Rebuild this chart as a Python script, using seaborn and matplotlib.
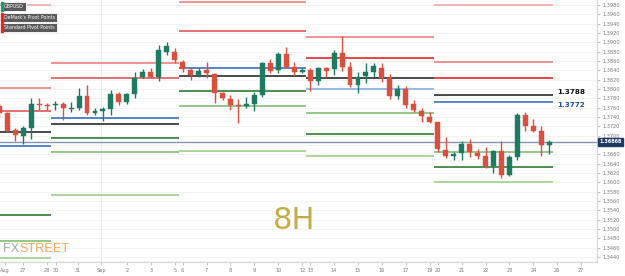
import numpy as np
import pandas as pd
import matplotlib
matplotlib.use("Agg")
import matplotlib.pyplot as plt
import seaborn as sns

# ---------------- data ----------------
opens = [1.37637, 1.3748, 1.37122, 1.36994, 1.37159, 1.37686, 1.37669, 1.37658, 1.3768, 1.37573,
         1.37588, 1.37851, 1.3748, 1.37536, 1.37566, 1.37901, 1.37716, 1.37901, 1.38252, 1.38359,
         1.38259, 1.38794, 1.38794, 1.38586, 1.38409, 1.38301, 1.38409, 1.38323, 1.37909, 1.37787,
         1.37658, 1.37637, 1.3768, 1.37873, 1.38552, 1.38409, 1.38752, 1.38479, 1.38372, 1.38409,
         1.38179, 1.38445, 1.38424, 1.38779, 1.38479, 1.38087, 1.3828, 1.38372, 1.38451, 1.38237,
         1.37851, 1.38001, 1.3768, 1.37536, 1.37408, 1.37287, 1.36694, 1.36565, 1.36623, 1.36822,
         1.36629, 1.36565, 1.36351, 1.36679, 1.36158, 1.3655, 1.37444, 1.37208, 1.37101, 1.36801]
highs = [1.37701, 1.37515, 1.37159, 1.37215, 1.37815, 1.37802, 1.37708, 1.3775, 1.37729, 1.37729,
         1.38029, 1.38087, 1.37588, 1.37622, 1.3798, 1.37943, 1.37922, 1.38359, 1.3843, 1.38445,
         1.38944, 1.39009, 1.3888, 1.38623, 1.38479, 1.38451, 1.38586, 1.38338, 1.37943, 1.37873,
         1.37787, 1.37836, 1.37943, 1.3858, 1.38638, 1.38801, 1.38895, 1.38586, 1.38445, 1.38458,
         1.38479, 1.38479, 1.38837, 1.39137, 1.38586, 1.38372, 1.38552, 1.38552, 1.38559, 1.38323,
         1.38087, 1.38066, 1.37766, 1.37588, 1.37515, 1.373, 1.36979, 1.36657, 1.36893, 1.36923,
         1.36722, 1.36764, 1.36704, 1.36893, 1.36587, 1.37493, 1.37515, 1.37352, 1.37208, 1.36908]
lows = [1.37401, 1.37086, 1.36887, 1.36816, 1.36929, 1.37551, 1.37551, 1.37551, 1.37337, 1.37515,
        1.37551, 1.37444, 1.37444, 1.37315, 1.37444, 1.37658, 1.37673, 1.37802, 1.38231, 1.38231,
        1.38179, 1.3873, 1.38559, 1.38372, 1.38194, 1.38259, 1.38231, 1.37695, 1.37766, 1.37551,
        1.37266, 1.37588, 1.37536, 1.3783, 1.38338, 1.38338, 1.38445, 1.38301, 1.38338, 1.37965,
        1.38087, 1.38265, 1.38301, 1.38394, 1.38051, 1.37922, 1.38136, 1.38252, 1.38151, 1.37787,
        1.37787, 1.37594, 1.37508, 1.373, 1.37266, 1.36657, 1.36516, 1.36479, 1.36479, 1.3655,
        1.36494, 1.36301, 1.36194, 1.36087, 1.36136, 1.36479, 1.37107, 1.37086, 1.36565, 1.36608]
closes = [1.37493, 1.37107, 1.37015, 1.37159, 1.3768, 1.37658, 1.37643, 1.37686, 1.37588, 1.37594,
          1.37851, 1.3748, 1.37536, 1.37573, 1.37901, 1.37716, 1.37901, 1.38231, 1.38372, 1.38265,
          1.38837, 1.38923, 1.38623, 1.38424, 1.38301, 1.38394, 1.38338, 1.37922, 1.37802, 1.37658,
          1.37637, 1.3768, 1.37873, 1.38552, 1.38394, 1.38752, 1.38479, 1.38372, 1.38409, 1.38179,
          1.38445, 1.38394, 1.38779, 1.38479, 1.38087, 1.38265, 1.38372, 1.38494, 1.38237, 1.37851,
          1.38001, 1.37658, 1.37551, 1.37423, 1.373, 1.36709, 1.36565, 1.36601, 1.36822, 1.36644,
          1.36565, 1.36351, 1.36679, 1.36158, 1.3655, 1.37444, 1.37208, 1.37107, 1.36801, 1.36868]

day_labels = ["Aug", "27", "28", "30", "31", "Sep", "2", "3", "5", "6", "7", "8", "9", "10",
              "12", "13", "14", "15", "16", "17", "19", "20", "21", "22", "23", "24", "26", "27"]
day_pos = [-0.3, 1.97, 5.0, 6.1, 8.9, 11.76, 15, 18, 21, 22, 25, 28, 31, 34, 37, 38, 41, 44,
           47, 50, 53, 54, 57, 60, 63, 66, 69, 72]

week_start = [-2.0, 5.5, 21.5, 37.5, 53.5]
week_end = [5.5, 21.5, 37.5, 53.5, 68.5]
piv_week = [0, 0, 0, 0, 0, 0, 0, 0,
            1, 1, 1, 1, 1, 1, 1,
            2, 2, 2, 2, 2, 2, 2,
            3, 3, 3, 3, 3, 3, 3,
            4, 4, 4, 4, 4, 4, 4, 4]
piv_value = [1.3981, 1.3802, 1.3753, 1.3708, 1.3677, 1.3530, 1.3474, 1.3438,
             1.3856, 1.3823, 1.3738, 1.3725, 1.3695, 1.3665, 1.3573,
             1.3987, 1.3925, 1.3845, 1.3829, 1.3796, 1.3763, 1.3668,
             1.3912, 1.3866, 1.3823, 1.3801, 1.3748, 1.3703, 1.3656,
             1.3980, 1.3859, 1.3823, 1.3788, 1.3772, 1.3665, 1.3632, 1.3600]
piv_kind = ["r3", "r2", "r1", "p", "dm", "s1", "s2", "s3",
            "r2", "r1", "dm", "p", "s1", "s2", "s3",
            "r2", "r1", "dm", "p", "s1", "s2", "s3",
            "r2", "r1b", "p", "dml", "s2", "s1", "s3",
            "r3", "r2", "r1b", "p", "dm", "s2", "s1", "s3"]

last_price = 1.36868
level_labels = ["1.3788", "1.3772"]
level_values = [1.3788, 1.3772]

# ---------------- style ----------------
sns.set_theme(style="white")
plt.rcParams["font.family"] = ["DejaVu Sans"]

kind_color = {"r3": "#f2a8a8", "r2": "#ec8080", "r1": "#e15858", "r1b": "#e8232a",
              "p": "#2b2b2b", "dm": "#3b6fc0", "dml": "#86aee0",
              "s1": "#2e7d32", "s2": "#7fbf74", "s3": "#9fcf8a"}
UP = "#1f7a62"
DOWN = "#d9503f"

fig = plt.figure(figsize=(6.25, 2.76), dpi=100)
ax = fig.add_axes([0.0, 1 - 262 / 276, 597 / 625, 262 / 276])
ax.set_facecolor("white")

ymin, ymax = 1.34293, 1.39909
ax.set_ylim(ymin, ymax)
ax.set_xlim(-0.92, 73.99)

yt = np.round(np.arange(1.3440, 1.39801, 0.002), 4)
for v in yt:
    ax.axhline(v, color="#f1f1f1", lw=0.6, zorder=0)
ax.axvline(11.76, color="#ececec", lw=0.8, zorder=0)

for w, v, k in zip(piv_week, piv_value, piv_kind):
    ax.hlines(v, week_start[w], week_end[w], color=kind_color[k], lw=1.2, zorder=1)

ax.axhline(last_price, color="#8595b0", lw=1.0, zorder=1)

df = pd.DataFrame({"o": opens, "h": highs, "l": lows, "c": closes})
df["x"] = np.arange(len(df)) - 1
df["up"] = df["c"] >= df["o"]
cols = np.where(df["up"], UP, DOWN)
ax.vlines(df["x"], df["l"], df["h"], colors=cols, lw=1.0, zorder=3)
body_lo = np.minimum(df["o"], df["c"])
body_h = np.maximum(np.abs(df["c"] - df["o"]), 0.00012)
ax.bar(df["x"], body_h, bottom=body_lo, width=0.62, color=cols, edgecolor=cols,
       linewidth=0.3, zorder=4)

ax.yaxis.tick_right()
ax.set_yticks(yt)
ax.set_yticklabels([f"{v:.4f}" for v in yt], fontsize=3.6, color="#777777")
ax.set_xticks(day_pos)
ax.set_xticklabels(day_labels, fontsize=3.6, color="#777777")
ax.tick_params(axis="y", length=2.5, width=0.5, color="#aaaaaa", pad=1.5)
ax.tick_params(axis="x", length=2, width=0.5, color="#aaaaaa", pad=2.5, bottom=True)
for s in ["top", "left"]:
    ax.spines[s].set_visible(False)
for s in ["right", "bottom"]:
    ax.spines[s].set_color("#d5d5d5")
    ax.spines[s].set_linewidth(0.8)

ax.text(69.0, level_values[0], level_labels[0], fontsize=5.2, fontweight="bold",
        color="#111111", va="bottom", ha="left", zorder=6)
ax.text(69.0, level_values[1], level_labels[1], fontsize=5.2, fontweight="bold",
        color="#1f4fa3", va="top", ha="left", zorder=6)

ax.annotate(f"{last_price:.5f}", xy=(1.0, last_price), xycoords=("axes fraction", "data"),
            xytext=(1.5, 0), textcoords="offset points", fontsize=3.6, color="white",
            fontweight="bold", va="center", ha="left", annotation_clip=False,
            bbox=dict(boxstyle="square,pad=0.25", fc="#1f3a63", ec="#1f3a63"), zorder=7)

ax.text(0.5 * (-0.92 + 73.99) - 0.5, 1.3518, "8H", fontsize=22, color="#c2ad48",
        ha="center", va="center", zorder=2)

def box(y, txt, side):
    fig.text(4 / 625, 1 - y / 276, txt, fontsize=3.4, color="white", va="center", ha="left",
             bbox=dict(boxstyle="square,pad=0.45", fc="#5a5a5a", ec="white", lw=0.6), zorder=8)
    fig.patches.append(plt.Rectangle((1.5 / 625, 1 - (y + 4.5) / 276), 1.6 / 625, 9 / 276,
                                     transform=fig.transFigure, color=side, zorder=9))

box(6.2, "GBPUSD", "#1f9a6a")
box(17.3, "DeMark's Pivot Points", "#e02a2a")
box(27.8, "Standard Pivot Points", "#e02a2a")

logo_font = ["Liberation Sans", "DejaVu Sans"]
fx = fig.text(3 / 625, 1 - 249 / 276, "FX", fontsize=9.2, color="#a7a7a7", va="center",
              ha="left", family=logo_font, zorder=8)
fig.canvas.draw()
ax.annotate("STREET", xy=(1.0, 0.5), xycoords=fx, xytext=(0.3, 0), textcoords="offset points",
            fontsize=9.2, color="#f3a65a", va="center", ha="left", family=logo_font,
            annotation_clip=False, zorder=8)

fig.savefig("out.png", dpi=100, facecolor="white")
